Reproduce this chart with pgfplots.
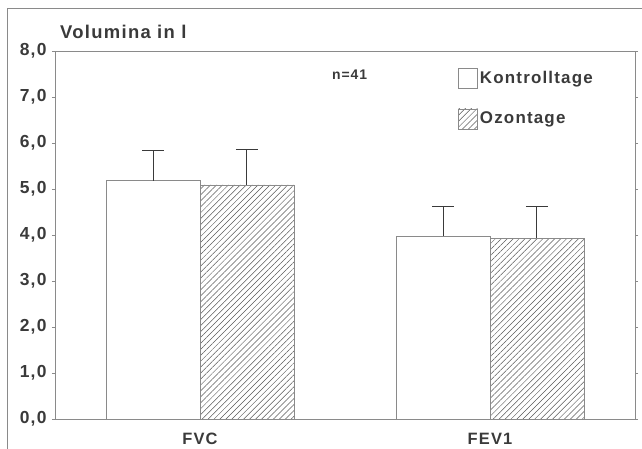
\documentclass[border=0pt]{standalone}
\usepackage{fontspec}
\setmainfont{Liberation Sans}[LetterSpace=7]
\usepackage{pgfplots}
\pgfplotsset{compat=1.18}
\usepackage{pgfplotstable}
\usetikzlibrary{patterns.meta}
\definecolor{ink}{HTML}{3A3A3A}
\definecolor{frame}{HTML}{8A8A8A}

\pgfplotstableread{
x y e
0 5.18 0.65
1 3.98 0.64
}\kontroll
\pgfplotstableread{
x y e
0 5.09 0.77
1 3.93 0.70
}\ozon

\begin{document}
\begin{tikzpicture}
\useasboundingbox (0bp,0bp) rectangle (642bp,449bp);
\draw[frame, line width=0.7pt] (7bp,0bp) -- (7bp,441bp) -- (642bp,441bp);
\node[anchor=base west, font=\fontsize{18.5}{20}\selectfont\bfseries, text=ink, inner sep=0pt] at (60bp,410bp) {Volumina in l};
\begin{axis}[
  at={(55bp,30bp)}, anchor=south west,
  scale only axis, width=580bp, height=368bp,
  xmin=-0.5, xmax=1.5, ymin=0, ymax=8,
  ybar=0pt, bar width=0.324,
  axis line style={frame, line width=0.6pt},
  xtick={0,1}, xticklabels={FVC,FEV1},
  x tick style={draw=none},
  ytick={0,1,...,8},
  y tick style={draw=frame, line width=0.5pt},
  tick align=outside, major tick length=3bp,
  minor tick num=0,
  xticklabel style={font=\fontsize{16.5}{18}\selectfont\bfseries, text=ink, yshift=-8bp},
  yticklabel style={font=\fontsize{17.5}{19}\selectfont\bfseries, text=ink, xshift=-2bp},
  /pgf/number format/.cd, fixed, fixed zerofill, precision=1, use comma, assume math mode=true,
  /pgfplots/.cd,
  legend style={at={(0.69,0.96)}, anchor=north west, draw=none, fill=none,
    font=\fontsize{17}{18}\selectfont\bfseries, text=ink, row sep=20bp,
    /tikz/every even column/.append style={column sep=3bp}},
  legend cell align=left,
  legend image code/.code={\draw[#1, draw=frame, line width=0.6pt] (0bp,-10bp) rectangle (19bp,10bp);},
  clip=false,
]
\addplot[draw=frame, line width=0.6pt, fill=white,
  error bars/.cd, y dir=plus, y explicit,
  error bar style={draw=ink, line width=1pt},
  error mark options={rotate=90, draw=ink, line width=1pt, mark size=11bp}]
  table[x=x, y=y, y error=e] {\kontroll};
\addlegendentry{Kontrolltage}
\addplot[draw=frame, line width=0.6pt,
  pattern={Lines[angle=45, distance=4.2bp, line width=0.5bp]}, pattern color=black!65,
  error bars/.cd, y dir=plus, y explicit,
  error bar style={draw=ink, line width=1pt},
  error mark options={rotate=90, draw=ink, line width=1pt, mark size=11bp}]
  table[x=x, y=y, y error=e] {\ozon};
\addlegendentry{Ozontage}
\node[font=\fontsize{14}{16}\selectfont\bfseries, text=ink] at (rel axis cs:0.508,0.935) {n=41};
\end{axis}
\end{tikzpicture}
\end{document}
